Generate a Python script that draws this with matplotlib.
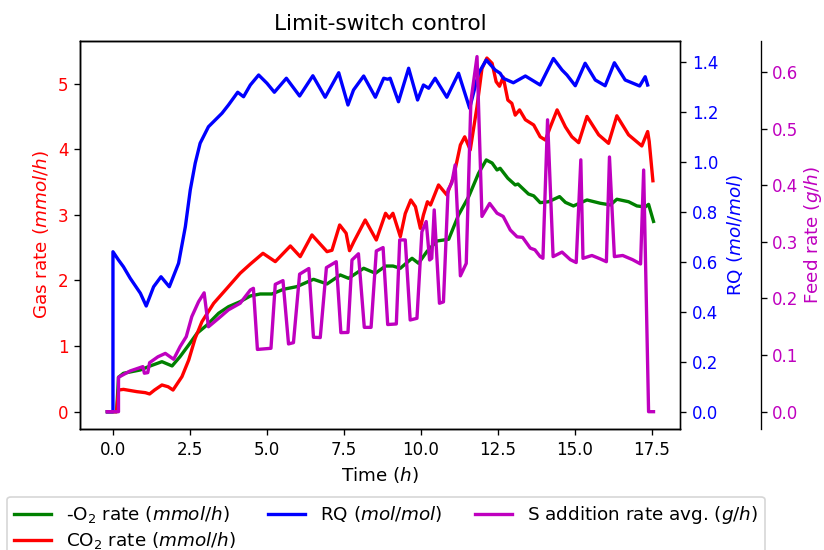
import matplotlib
matplotlib.use("Agg")
import matplotlib.pyplot as plt

# ---- data ----
rq_t = [-0.18, 0.0, 0.0, 0.18, 0.34, 0.56, 0.89, 1.08, 1.32, 1.56, 1.83, 2.13, 2.35, 2.51, 2.67, 2.83,
        3.10, 3.54, 3.75, 4.05, 4.24, 4.46, 4.73, 5.00, 5.24, 5.63, 6.06, 6.49, 6.89, 7.33, 7.63,
        7.81, 8.14, 8.52, 8.79, 8.92, 9.00, 9.27, 9.60, 9.89, 10.08, 10.25, 10.46, 10.84, 11.22,
        11.58, 11.87, 12.12, 12.41, 12.57, 12.67, 13.00, 13.39, 13.87, 14.30, 14.58, 14.74, 15.01,
        15.33, 15.66, 15.98, 16.28, 16.63, 17.10, 17.28, 17.36]
rq_v = [0.0, 0.0, 0.64, 0.607, 0.58, 0.534, 0.474, 0.423, 0.50, 0.54, 0.50, 0.594, 0.74, 0.887, 0.994,
        1.074, 1.14, 1.194, 1.227, 1.278, 1.26, 1.307, 1.347, 1.314, 1.278, 1.334, 1.263, 1.344, 1.258,
        1.356, 1.227, 1.287, 1.343, 1.258, 1.334, 1.33, 1.334, 1.24, 1.374, 1.247, 1.307, 1.294,
        1.334, 1.258, 1.354, 1.214, 1.354, 1.407, 1.367, 1.354, 1.334, 1.316, 1.343, 1.307, 1.413,
        1.367, 1.347, 1.304, 1.394, 1.327, 1.304, 1.396, 1.327, 1.303, 1.34, 1.307]

co2_t = [-0.18, 0.12, 0.18, 0.34, 0.78, 1.05, 1.19, 1.35, 1.59, 1.79, 1.95, 2.24, 2.46, 2.67, 2.89,
         3.27, 3.70, 4.13, 4.46, 4.87, 5.27, 5.76, 6.08, 6.46, 6.95, 7.11, 7.36, 7.57, 7.68, 7.82,
         8.19, 8.55, 8.85, 8.97, 9.09, 9.33, 9.49, 9.67, 9.82, 9.98, 10.08, 10.21, 10.31, 10.57,
         10.84, 11.06, 11.28, 11.42, 11.60, 11.82, 11.98, 12.14, 12.31, 12.44, 12.55, 12.67, 12.82,
         12.95, 13.06, 13.20, 13.39, 13.66, 13.87, 14.04, 14.20, 14.42, 14.69, 14.90, 15.12, 15.39,
         15.77, 16.09, 16.36, 16.74, 17.17, 17.36, 17.41, 17.53]
co2_v = [0.0, 0.0, 0.33, 0.34, 0.305, 0.29, 0.27, 0.33, 0.407, 0.38, 0.33, 0.534, 0.788, 1.12, 1.372,
         1.652, 1.88, 2.11, 2.25, 2.414, 2.287, 2.526, 2.363, 2.694, 2.439, 2.46, 2.846, 2.72, 2.454,
         2.59, 2.922, 2.617, 3.024, 2.95, 3.024, 2.668, 3.02, 3.227, 3.125, 2.795, 2.998, 3.2, 3.15,
         3.456, 3.303, 3.58, 4.066, 4.19, 3.99, 4.65, 5.23, 5.39, 5.31, 5.03, 4.96, 5.1, 4.75, 4.70,
         4.52, 4.60, 4.45, 4.37, 4.19, 4.14, 4.34, 4.6, 4.34, 4.19, 4.1, 4.5, 4.22, 4.09, 4.51, 4.22,
         4.05, 4.27, 4.12, 3.52]

o2_t = [-0.18, 0.12, 0.18, 0.34, 0.89, 1.21, 1.59, 1.92, 2.18, 2.46, 2.73, 3.05, 3.43, 3.75, 4.13,
        4.46, 4.78, 5.16, 5.54, 5.97, 6.51, 6.95, 7.38, 7.65, 8.14, 8.52, 8.85, 9.09, 9.33, 9.71,
        9.92, 10.19, 10.52, 10.90, 11.22, 11.55, 11.87, 12.12, 12.31, 12.47, 12.57, 12.82, 13.06,
        13.15, 13.49, 13.66, 13.87, 14.14, 14.50, 14.69, 14.95, 15.39, 15.82, 16.15, 16.36, 16.74,
        17.01, 17.28, 17.39, 17.55]
o2_v = [0.0, 0.0, 0.524, 0.585, 0.636, 0.697, 0.762, 0.697, 0.84, 1.017, 1.195, 1.32, 1.5, 1.6, 1.677,
        1.764, 1.794, 1.794, 1.866, 1.906, 2.018, 1.947, 2.084, 2.033, 2.186, 2.11, 2.22, 2.22, 2.186,
        2.338, 2.262, 2.439, 2.602, 2.628, 2.998, 3.278, 3.634, 3.837, 3.79, 3.684, 3.71, 3.558, 3.456,
        3.47, 3.318, 3.29, 3.186, 3.2, 3.278, 3.19, 3.136, 3.227, 3.177, 3.151, 3.238, 3.2, 3.136,
        3.12, 3.16, 2.9]

feed_t = [-0.18, 0.18, 0.18, 0.56, 0.97, 1.02, 1.13, 1.19, 1.46, 1.70, 1.97, 2.18, 2.38, 2.56, 2.78,
          2.96, 3.10, 3.43, 3.75, 4.13, 4.46, 4.56, 4.69, 5.13, 5.27, 5.52, 5.70, 5.86, 6.06, 6.36,
          6.51, 6.73, 6.93, 7.25, 7.40, 7.63, 7.76, 7.97, 8.16, 8.38, 8.55, 8.77, 8.92, 9.20, 9.31,
          9.49, 9.65, 9.87, 10.03, 10.17, 10.28, 10.35, 10.43, 10.60, 10.73, 10.88, 11.00, 11.11,
          11.28, 11.47, 11.62, 11.82, 11.98, 12.23, 12.47, 12.67, 12.90, 13.12, 13.30, 13.55, 13.70,
          13.87, 13.96, 14.11, 14.29, 14.58, 14.85, 15.04, 15.19, 15.26, 15.55, 15.82, 16.02, 16.12,
          16.28, 16.55, 16.87, 17.13, 17.23, 17.39, 17.55]
feed_v = [0.0, 0.0, 0.0608, 0.072, 0.0796, 0.068, 0.069, 0.0866, 0.097, 0.103, 0.0926, 0.115, 0.1326,
          0.168, 0.1944, 0.21, 0.150, 0.165, 0.18, 0.1916, 0.215, 0.218, 0.110, 0.112, 0.225, 0.2316,
          0.1197, 0.122, 0.243, 0.253, 0.1315, 0.131, 0.2546, 0.265, 0.1397, 0.14, 0.268, 0.279, 0.149,
          0.149, 0.284, 0.29, 0.154, 0.155, 0.3035, 0.3035, 0.162, 0.165, 0.318, 0.336, 0.268, 0.271,
          0.3565, 0.1916, 0.194, 0.392, 0.404, 0.436, 0.24, 0.262, 0.548, 0.6275, 0.345, 0.368, 0.3507,
          0.345, 0.321, 0.309, 0.308, 0.289, 0.286, 0.274, 0.271, 0.5157, 0.274, 0.282, 0.2686, 0.2635,
          0.445, 0.271, 0.276, 0.27, 0.265, 0.45, 0.274, 0.276, 0.2686, 0.261, 0.427, 0.0, 0.0]

x_ticks = [0.0, 2.5, 5.0, 7.5, 10.0, 12.5, 15.0, 17.5]
gas_ticks = [0, 1, 2, 3, 4, 5]
rq_ticks = [0.0, 0.2, 0.4, 0.6, 0.8, 1.0, 1.2, 1.4]
feed_ticks = [0.0, 0.1, 0.2, 0.3, 0.4, 0.5, 0.6]

# ---- figure ----
DPI = 120
LW = 2.0
LABEL_FS = 11
fig = plt.figure(figsize=(824 / DPI, 550 / DPI), dpi=DPI)
ax = fig.add_subplot(111)
fig.subplots_adjust(left=80 / 824, right=680 / 824, top=1 - 41 / 550, bottom=1 - 429 / 550)
ax2 = ax.twinx()
ax3 = ax.twinx()
ax3.spines['right'].set_position(('axes', 1.1345))

l1, = ax.plot(o2_t, o2_v, color='g', lw=LW, label='-O$_2$ rate ($mmol/h$)')
l2, = ax.plot(co2_t, co2_v, color='r', lw=LW, label='CO$_2$ rate ($mmol/h$)')
l3, = ax2.plot(rq_t, rq_v, color='b', lw=LW, label='RQ ($mol/mol$)')
l4, = ax3.plot(feed_t, feed_v, color='m', lw=LW, label='S addition rate avg. ($g/h$)')

ax.set_xlim(-1.07, 18.41)
ax.set_ylim(-0.264, 5.65)
ax2.set_ylim(-0.069, 1.483)
ax3.set_ylim(-0.0306, 0.655)

ax.set_xticks(x_ticks)
ax.set_yticks(gas_ticks)
ax2.set_yticks(rq_ticks)
ax3.set_yticks(feed_ticks)

ax.set_title('Limit-switch control', fontsize=13, pad=6.5)
ax.set_xlabel('Time ($h$)', fontsize=LABEL_FS)
ax.set_ylabel('Gas rate ($mmol/h$)', color='r', fontsize=LABEL_FS)
ax2.set_ylabel('RQ ($mol/mol$)', color='b', fontsize=LABEL_FS)
ax3.set_ylabel('Feed rate ($g/h$)', color='m', fontsize=LABEL_FS, labelpad=2.0)

ax.tick_params(axis='y', colors='k', labelcolor='r')
ax2.tick_params(axis='y', colors='k', labelcolor='b')
ax3.tick_params(axis='y', colors='k', labelcolor='m')

ax.legend(handles=[l1, l2, l3, l4], loc='upper center', bbox_to_anchor=(0.51, -0.151),
          ncol=3, fontsize=LABEL_FS, labelspacing=0.28, columnspacing=1.8)

fig.savefig('out.png', dpi=DPI)
